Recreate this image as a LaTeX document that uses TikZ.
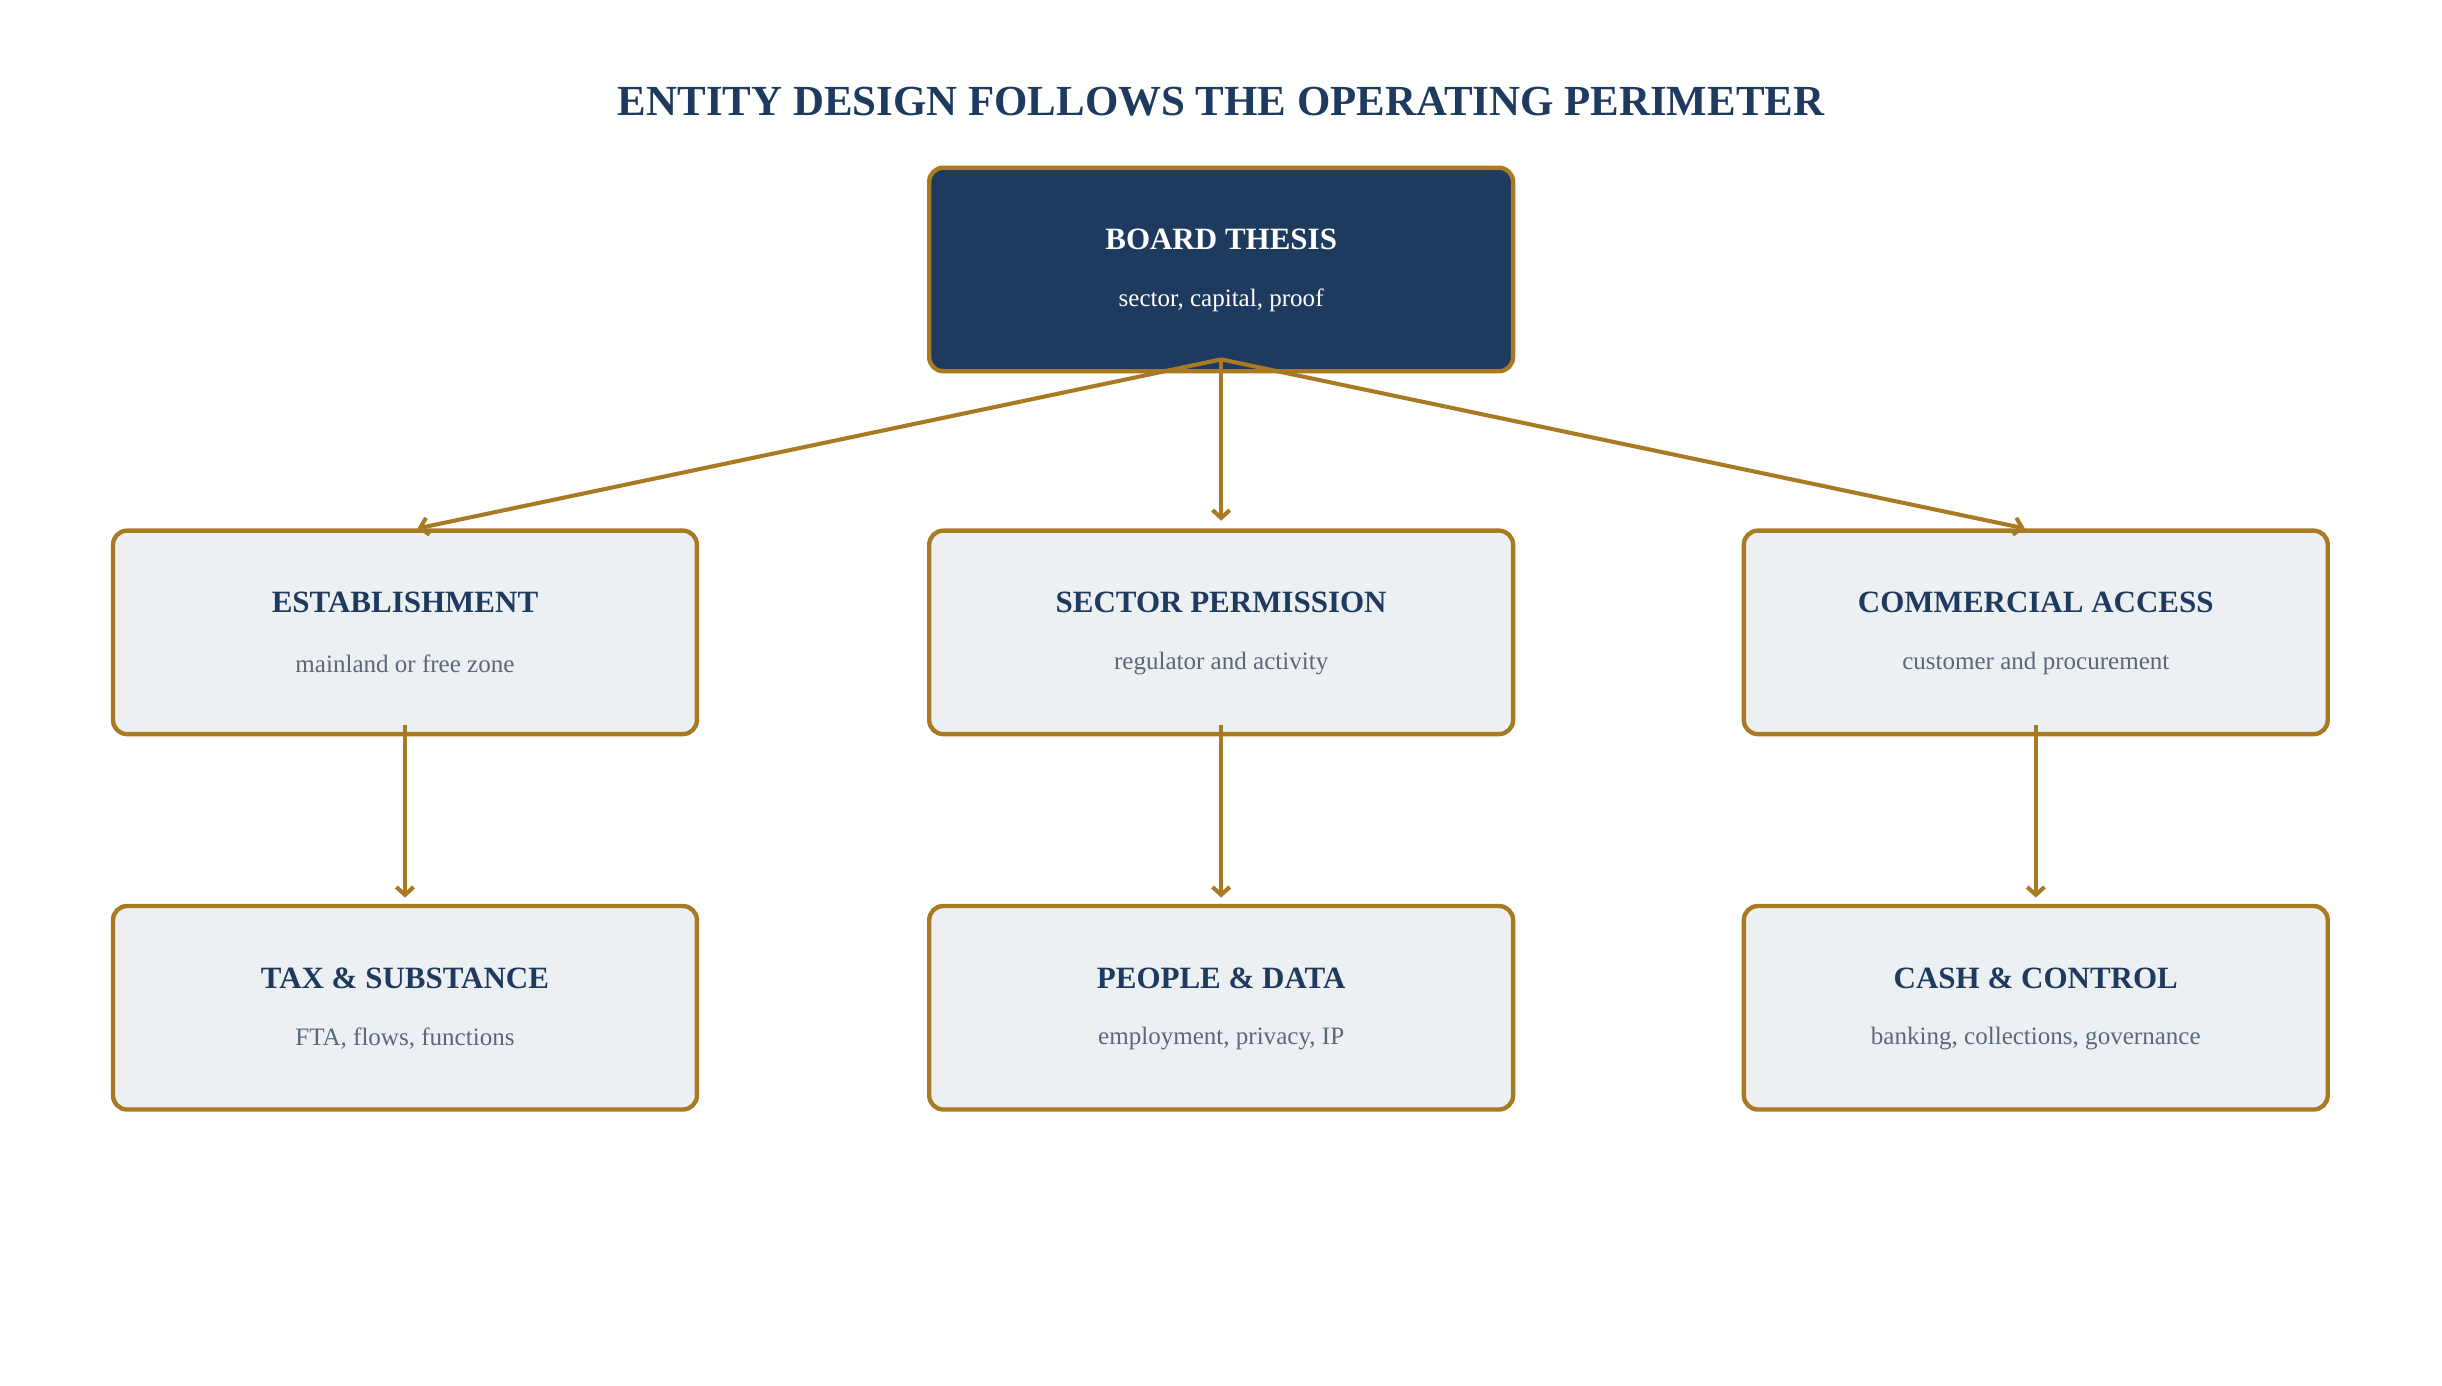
\documentclass[tikz,border=0pt]{standalone}
\usepackage{fontspec}
\setmainfont{Liberation Serif}
\usetikzlibrary{arrows.meta,calc}
\definecolor{navy}{HTML}{1F3A5F}
\definecolor{gold}{HTML}{A87B22}
\definecolor{pale}{HTML}{ECF0F3}
\definecolor{sub}{HTML}{5A6878}
\begin{document}
\begin{tikzpicture}[x=0.995pt,y=-0.995pt,
 box/.style={draw=gold,line width=2.8pt,rounded corners=9pt,fill=pale,minimum width=373pt,minimum height=130pt},
 hd/.style={font=\bfseries\fontsize{19.8}{24}\selectfont,text=navy},
 sb/.style={font=\fontsize{16}{19}\selectfont,text=sub},
 arr/.style={draw=gold,line width=2.6pt,-{Straight Barb[length=5pt,width=11pt,line width=2.6pt]}}]
\useasboundingbox (0,0) rectangle (1567.8,889.5);
\node[font=\bfseries\fontsize{27.4}{32}\selectfont,text=navy] (title) at (784,65) {ENTITY DESIGN FOLLOWS THE OPERATING PERIMETER};
\node[box,fill=navy] (bt) at (784,173) {};
\node[font=\bfseries\fontsize{19.8}{24}\selectfont,text=white] at (784,154) {BOARD THESIS};
\node[font=\fontsize{16}{19}\selectfont,text=white] at (784,193) {sector, capital, proof};
\foreach \n/\x/\y/\h/\s in {e/260/406/ESTABLISHMENT/mainland or free zone,
 s/784/406/SECTOR PERMISSION/regulator and activity,
 c/1307/406/COMMERCIAL ACCESS/customer and procurement,
 t/260/647/TAX \& SUBSTANCE/{FTA, flows, functions},
 p/784/647/PEOPLE \& DATA/{employment, privacy, IP},
 k/1307/647/CASH \& CONTROL/{banking, collections, governance}}{
 \node[box] (\n) at (\x,\y) {};
 \node[hd] at (\x,\y-19) {\h};
 \node[sb] at (\x,\y+20) {\s};
}
\coordinate (o) at ($(bt.south)+(0,-9)$);
\draw[arr] (o) -- ($(e.north)+(8,0)$);
\draw[arr] (o) -- ($(s.north)+(0,-5)$);
\draw[arr] (o) -- ($(c.north)+(-7,0)$);
\draw[arr] ($(e.south)+(0,-7)$) -- ($(t.north)+(0,-4)$);
\draw[arr] ($(s.south)+(0,-7)$) -- ($(p.north)+(0,-4)$);
\draw[arr] ($(c.south)+(0,-7)$) -- ($(k.north)+(0,-4)$);
\end{tikzpicture}
\end{document}
